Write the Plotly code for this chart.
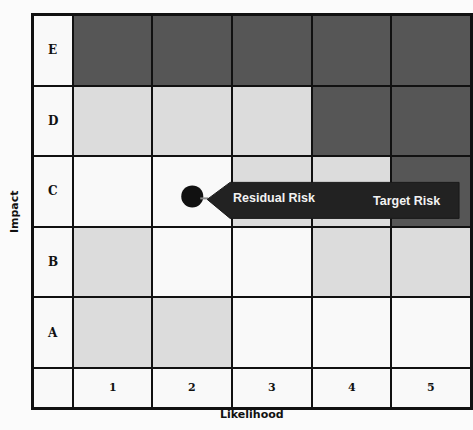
import plotly.graph_objects as go

# ---- data ----
likelihood = ["1", "2", "3", "4", "5"]
impact = ["A", "B", "C", "D", "E"]
# risk level per cell, rows = impact A..E, cols = likelihood 1..5
# 0 = low (white), 1 = medium (light grey), 2 = high (dark grey)
risk_A = [1, 1, 0, 0, 0]
risk_B = [1, 0, 0, 1, 1]
risk_C = [0, 0, 1, 1, 2]
risk_D = [1, 1, 1, 2, 2]
risk_E = [2, 2, 2, 2, 2]
residual_likelihood = 2
residual_impact = "C"
callout_labels = ["Residual Risk", "Target Risk"]

W, H = 473, 430
ML, MR, MT, MB = 33, 0, 15, 22
x_edges = [0, 0.5, 1.5, 2.5, 3.5, 4.5, 5.5]
y_edges = [-0.07, 0.5, 1.5, 2.5, 3.5, 4.5, 5.5]
px_x = (W - ML - MR) / (x_edges[-1] - x_edges[0])
px_y = (H - MT - MB) / (y_edges[-1] - y_edges[0])

rows = [risk_A, risk_B, risk_C, risk_D, risk_E]
z = [[0] * 6] + [[0] + r for r in rows]

colorscale = [[0, "#f9f9f9"], [0.5, "#dcdcdc"], [1, "#565656"]]

fig = go.Figure()
fig.add_trace(go.Heatmap(
    x=x_edges, y=y_edges, z=z, zmin=0, zmax=2,
    colorscale=colorscale, showscale=False, xgap=2, ygap=2,
    hoverinfo="skip",
))

label_font = dict(family="DejaVu Serif", size=12, color="#111111")
num_font = dict(family="DejaVu Serif", size=11, color="#111111")
annotations = []
for i, lab in enumerate(impact):
    annotations.append(dict(x=0.25, y=i + 1, text="<b>%s</b>" % lab,
                            showarrow=False, font=label_font))
for j, lab in enumerate(likelihood):
    annotations.append(dict(x=j + 1, y=0.215, text="<b>%s</b>" % lab,
                            showarrow=False, font=num_font))

# residual risk point
rx = residual_likelihood
ry = impact.index(residual_impact) + 1 - 5 / px_y


def X(dpx):
    return rx + dpx / px_x


def Y(dpx):
    return ry - dpx / px_y


# callout polygon (offsets in pixels from the point)
path = "M {} {} L {} {} L {} {} L {} {} L {} {} Z".format(
    X(15), Y(3), X(38), Y(-14), X(268), Y(-14), X(268), Y(22), X(38), Y(22))
shapes = [
    dict(type="line", x0=X(8), y0=Y(2), x1=X(16), y1=Y(2),
         line=dict(color="#888888", width=2)),
    dict(type="path", path=path, fillcolor="#222222",
         line=dict(color="#1a1a1a", width=1)),
]

fig.add_trace(go.Scatter(
    x=[rx], y=[ry], mode="markers",
    marker=dict(size=22, color="#111111"), hoverinfo="skip", showlegend=False,
))

cfont = dict(family="Liberation Sans", size=12.5, color="#f2f2f2")
annotations.append(dict(x=X(82), y=Y(2), text="<b>%s</b>" % callout_labels[0],
                        showarrow=False, font=cfont))
annotations.append(dict(x=X(215), y=Y(5), text="<b>%s</b>" % callout_labels[1],
                        showarrow=False, font=cfont))

tfont = dict(family="DejaVu Sans", size=11, color="#111111")
annotations.append(dict(xref="paper", yref="paper", x=(6 - ML) / (W - ML - MR),
                        y=0.5, text="<b>Impact</b>", textangle=-90,
                        showarrow=False, font=tfont))
annotations.append(dict(xref="paper", yref="paper", x=0.5,
                        y=-(423 - (H - MB)) / (H - MT - MB),
                        text="<b>Likelihood</b>", showarrow=False, font=tfont))

fig.update_layout(
    width=W, height=H,
    margin=dict(l=ML, r=MR, t=MT, b=MB),
    paper_bgcolor="#fbfbfb", plot_bgcolor="#111111",
    showlegend=False,
    annotations=annotations, shapes=shapes,
    xaxis=dict(range=[x_edges[0], x_edges[-1]], showgrid=False, zeroline=False,
               showticklabels=False, ticks="", showline=True, mirror=True,
               linecolor="#111111", linewidth=2, fixedrange=True),
    yaxis=dict(range=[y_edges[0], y_edges[-1]], showgrid=False, zeroline=False,
               showticklabels=False, ticks="", showline=True, mirror=True,
               linecolor="#111111", linewidth=2, fixedrange=True),
)

fig.write_html("out.html")
